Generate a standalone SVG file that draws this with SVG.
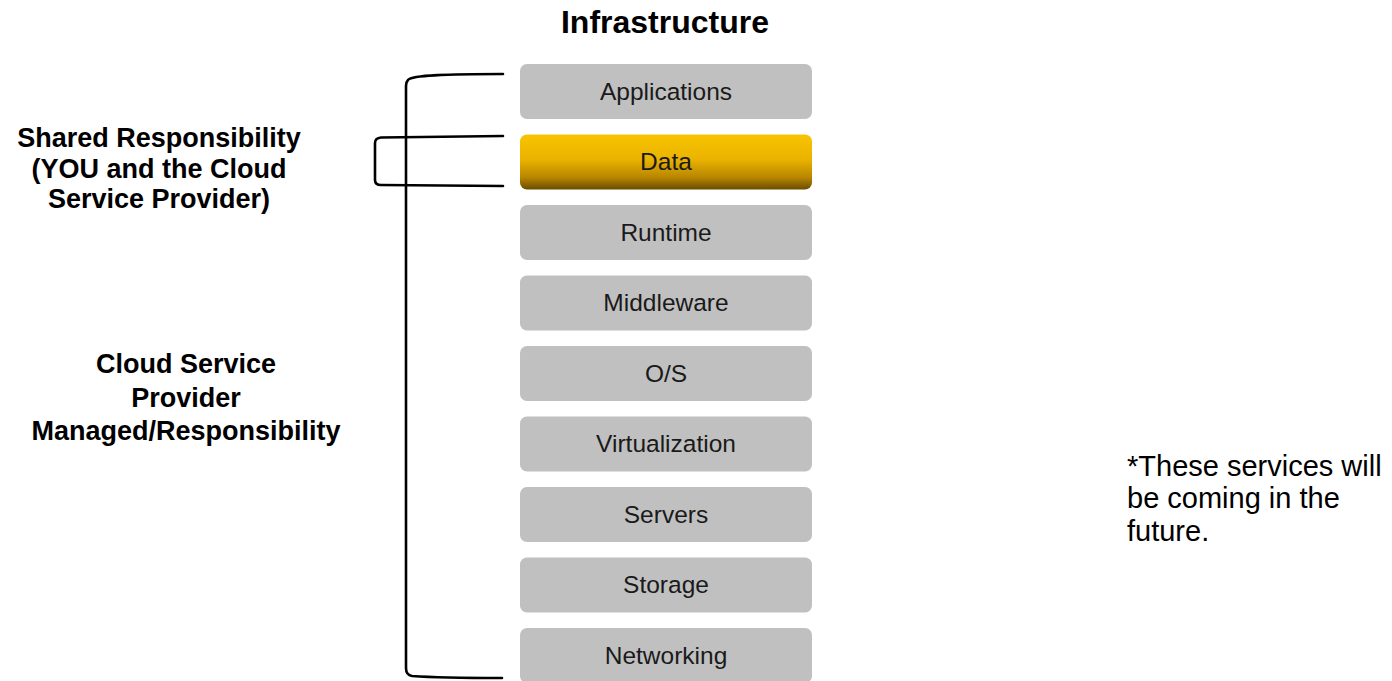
<svg xmlns="http://www.w3.org/2000/svg" width="1392" height="681" viewBox="0 0 1392 681">
  <style>
    .layer { fill: #c0c0c0; }
    .lbl { font-family: "Liberation Sans", Arial, sans-serif; font-size: 24.5px; fill: #1a1a1a; text-anchor: middle; }
    .head { font-family: "Liberation Sans", Arial, sans-serif; font-weight: bold; fill: #000; text-anchor: middle; }
    .note { font-family: "Liberation Sans", Arial, sans-serif; font-size: 29px; fill: #000; }
    .brace { fill: none; stroke: #000; stroke-width: 2.6; stroke-linecap: round; stroke-linejoin: round; }
  </style>
  <defs>
    <linearGradient id="gold" x1="0" y1="0" x2="0" y2="1">
      <stop offset="0" stop-color="#f8c400"/>
      <stop offset="0.45" stop-color="#ebb300"/>
      <stop offset="0.78" stop-color="#b88600"/>
      <stop offset="1" stop-color="#6b4c00"/>
    </linearGradient>
  </defs>
  <rect width="1392" height="681" fill="#ffffff"/>

  <!-- title -->
  <text class="head" x="665" y="33" font-size="32">Infrastructure</text>

  <!-- side labels -->
  <g id="shared-label">
    <text class="head" x="159" y="147" font-size="27">Shared Responsibility</text>
    <text class="head" x="159" y="178" font-size="27">(YOU and the Cloud</text>
    <text class="head" x="159" y="208" font-size="27">Service Provider)</text>
  </g>
  <g id="provider-label">
    <text class="head" x="186" y="373" font-size="27">Cloud Service</text>
    <text class="head" x="186" y="406.5" font-size="27">Provider</text>
    <text class="head" x="186" y="440" font-size="27">Managed/Responsibility</text>
  </g>
  <g id="note">
    <text class="note" x="1127" y="476">*These services will</text>
    <text class="note" x="1127" y="508">be coming in the</text>
    <text class="note" x="1127" y="541">future.</text>
  </g>

  <!-- brackets -->
  <g id="connectors">
    <path class="brace" d="M503,74 C450,74 412,75 408,80 Q406,82 406,86 L406,668 Q406,675 412,676 C440,678 470,678 502,678"/>
    <path class="brace" d="M503,136 L381,137.5 Q375,138 375,143 L375,180 Q375,185 381,185 L503,186"/>
  </g>

  <!-- stack layers -->
  <g id="applications"><rect class="layer" x="520" y="64" width="292" height="55" rx="7"/><text class="lbl" x="666" y="99.5">Applications</text></g>
  <g id="data"><rect x="520" y="134.5" width="292" height="55" rx="7" fill="url(#gold)"/><text class="lbl" x="666" y="170">Data</text></g>
  <g id="runtime"><rect class="layer" x="520" y="205" width="292" height="55" rx="7"/><text class="lbl" x="666" y="240.5">Runtime</text></g>
  <g id="middleware"><rect class="layer" x="520" y="275.5" width="292" height="55" rx="7"/><text class="lbl" x="666" y="311">Middleware</text></g>
  <g id="os"><rect class="layer" x="520" y="346" width="292" height="55" rx="7"/><text class="lbl" x="666" y="381.5">O/S</text></g>
  <g id="virtualization"><rect class="layer" x="520" y="416.5" width="292" height="55" rx="7"/><text class="lbl" x="666" y="452">Virtualization</text></g>
  <g id="servers"><rect class="layer" x="520" y="487" width="292" height="55" rx="7"/><text class="lbl" x="666" y="522.5">Servers</text></g>
  <g id="storage"><rect class="layer" x="520" y="557.5" width="292" height="55" rx="7"/><text class="lbl" x="666" y="593">Storage</text></g>
  <g id="networking"><rect class="layer" x="520" y="628" width="292" height="55" rx="7"/><text class="lbl" x="666" y="663.5">Networking</text></g>
</svg>
